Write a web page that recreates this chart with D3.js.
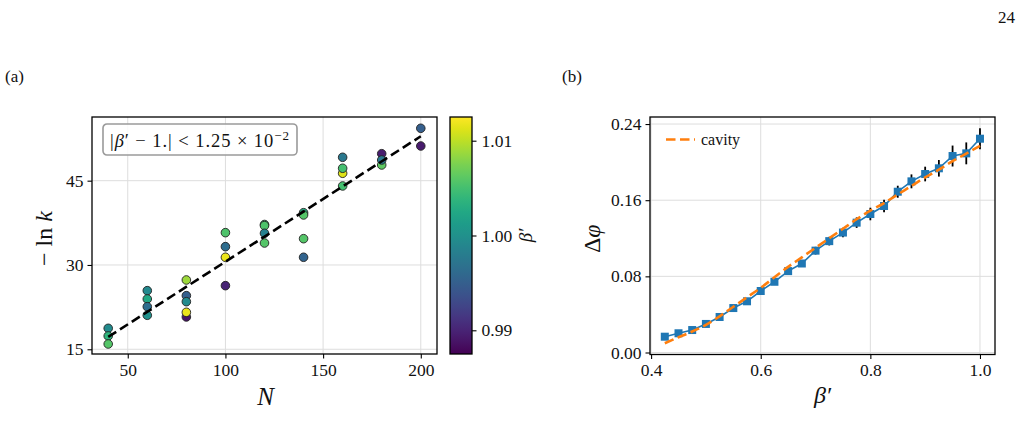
<!DOCTYPE html>
<html>
<head>
<meta charset="utf-8">
<script src="https://cdn.jsdelivr.net/npm/d3@7"></script>
<style>
body { margin: 0; background: #fff; }
svg text { font-family: "Liberation Serif", "DejaVu Serif", serif; fill: #111; }
</style>
</head>
<body>
<svg id="fig" width="1023" height="439"></svg>
<script>
// panel (a): system size N, -ln k, and beta' of each run
var sizeN = [40, 40, 40, 60, 60, 60, 60, 80, 80, 80, 80, 80, 100, 100, 100, 100,
    120, 120, 120, 120, 140, 140, 140, 140, 160, 160, 160, 160, 180, 180, 180, 200, 200];
var minusLnK = [18.73, 17.37, 15.94, 25.43, 23.95, 22.58, 21.05, 27.33, 24.54, 23.47, 20.75, 21.58,
    35.75, 33.26, 31.37, 26.32, 37.2, 37.0, 35.64, 33.91, 39.3, 38.9, 34.68, 31.37,
    49.16, 46.32, 47.21, 44.06, 49.8, 47.79, 48.68, 54.32, 51.17];
var betaRun = [0.9995, 1.0038, 1.0058, 0.9993, 1.0025, 0.9963, 1.0000, 1.0088, 0.9950, 0.9995, 0.9888, 1.0118,
    1.0055, 0.9963, 1.0118, 0.9900, 1.0045, 1.0055, 0.9983, 1.0058, 1.0030, 1.0058, 1.0058, 0.9955,
    0.9975, 1.0113, 1.0050, 1.0050, 0.9895, 1.0063, 0.9975, 0.9950, 0.9893];
var fitN = [40, 200];
var fitLnK = [17.2, 52.9];
var xTicksA = [50, 100, 150, 200];
var yTicksA = [15, 30, 45];
var cbTicks = [0.99, 1.00, 1.01];
var betaRange = [0.9875, 1.0125];

// panel (b): beta', Delta phi with error, and the cavity curve
var betaB = [0.425, 0.45, 0.475, 0.5, 0.525, 0.55, 0.575, 0.6, 0.625, 0.65, 0.675, 0.7,
    0.725, 0.75, 0.775, 0.8, 0.825, 0.85, 0.875, 0.9, 0.925, 0.95, 0.975, 1.0];
var deltaPhi = [0.0166, 0.0202, 0.0236, 0.030, 0.0373, 0.0467, 0.0538, 0.0646, 0.0743, 0.0855, 0.0935, 0.107,
    0.117, 0.126, 0.1364, 0.1455, 0.1539, 0.1689, 0.1798, 0.1875, 0.1935, 0.2064, 0.2092, 0.2246];
var deltaErr = [0.001, 0.001, 0.0015, 0.0015, 0.002, 0.002, 0.002, 0.0025, 0.003, 0.003, 0.0035, 0.004,
    0.0045, 0.005, 0.0055, 0.0066, 0.0066, 0.0063, 0.0073, 0.0077, 0.0087, 0.011, 0.0115, 0.011];
var cavity = [0.0097, 0.016, 0.022, 0.029, 0.038, 0.048, 0.058, 0.068, 0.079, 0.090, 0.100, 0.110,
    0.120, 0.130, 0.140, 0.149, 0.157, 0.166, 0.175, 0.184, 0.192, 0.201, 0.209, 0.217];
var xTicksB = [0.4, 0.6, 0.8, 1.0];
var yTicksB = [0.00, 0.08, 0.16, 0.24];

var svg = d3.select("#fig");
var gridColor = "#dddddd";

function frame(g, w, h) {
    g.append("rect").attr("width", w).attr("height", h)
        .attr("fill", "none").attr("stroke", "#000").attr("stroke-width", 1.3);
}

function styleAxis(g) {
    g.select(".domain").remove();
    g.selectAll(".tick line").attr("stroke", "#000").attr("stroke-width", 1.1);
    g.selectAll(".tick text").style("font-size", "17.5px").attr("fill", "#222");
}

// ---------- panel (a) ----------
var A = {left: 92, top: 117, width: 345, height: 237};
var ga = svg.append("g").attr("transform", "translate(" + A.left + "," + A.top + ")");

var xA = d3.scaleLinear().domain([31.7, 208.3]).range([0, A.width]);
var yA = d3.scaleLinear().domain([14.16, 56.33]).range([A.height, 0]);
var colour = d3.scaleSequential(d3.interpolateViridis).domain(betaRange);

ga.append("g").selectAll("line").data(xTicksA).enter().append("line")
    .attr("x1", d => xA(d)).attr("x2", d => xA(d)).attr("y1", 0).attr("y2", A.height)
    .attr("stroke", gridColor).attr("stroke-width", 1);
ga.append("g").selectAll("line").data(yTicksA).enter().append("line")
    .attr("y1", d => yA(d)).attr("y2", d => yA(d)).attr("x1", 0).attr("x2", A.width)
    .attr("stroke", gridColor).attr("stroke-width", 1);

var runs = sizeN.map((n, i) => ({n: n, v: minusLnK[i], b: betaRun[i]}));
ga.append("g").selectAll("circle").data(runs).enter().append("circle")
    .attr("cx", d => xA(d.n))
    .attr("cy", d => yA(d.v))
    .attr("r", 4.3)
    .attr("fill", d => colour(d.b))
    .attr("stroke", "#222").attr("stroke-width", 0.9);

ga.append("path")
    .datum(fitN.map((n, i) => [n, fitLnK[i]]))
    .attr("d", d3.line().x(d => xA(d[0])).y(d => yA(d[1])))
    .attr("fill", "none").attr("stroke", "#000").attr("stroke-width", 2.6)
    .attr("stroke-dasharray", "9.5,4.5");

ga.append("g").attr("transform", "translate(0," + A.height + ")")
    .call(d3.axisBottom(xA).tickValues(xTicksA).tickSize(4.5).tickPadding(5).tickFormat(d3.format("d")))
    .call(styleAxis);
ga.append("g")
    .call(d3.axisLeft(yA).tickValues(yTicksA).tickSize(4.5).tickPadding(4).tickFormat(d3.format("d")))
    .call(styleAxis);
frame(ga, A.width, A.height);

// annotation box
var box = ga.append("g").attr("transform", "translate(11,7)");
box.append("rect").attr("width", 194).attr("height", 31).attr("rx", 4)
    .attr("fill", "#fff").attr("fill-opacity", 0.85)
    .attr("stroke", "#9a9a9a").attr("stroke-width", 1.6);
var bt = box.append("text").attr("x", 7).attr("y", 22.5).style("font-size", "18.5px")
    .attr("textLength", 179).attr("lengthAdjust", "spacing");
bt.append("tspan").text("|");
bt.append("tspan").style("font-style", "italic").text("β");
bt.append("tspan").text("′ − 1.| < 1.25 × 10");
bt.append("tspan").attr("dy", -7).style("font-size", "13px").text("−2");

ga.append("text").attr("x", A.width / 2 + 1).attr("y", A.height + 51)
    .attr("text-anchor", "middle").style("font-size", "25px").style("font-style", "italic").text("N");
ga.append("text")
    .attr("transform", "translate(-40," + (A.height / 2 + 3) + ") rotate(-90)")
    .attr("text-anchor", "middle").style("font-size", "24px")
    .html("− ln <tspan font-style='italic'>k</tspan>");

// colorbar
var CB = {left: 450, top: 117, width: 22, height: 237};
var gc = svg.append("g").attr("transform", "translate(" + CB.left + "," + CB.top + ")");
var grad = svg.append("defs").append("linearGradient").attr("id", "viridis")
    .attr("x1", 0).attr("y1", 1).attr("x2", 0).attr("y2", 0);
d3.range(0, 1.0001, 0.05).forEach(t => {
    grad.append("stop").attr("offset", t).attr("stop-color", d3.interpolateViridis(t));
});
gc.append("rect").attr("width", CB.width).attr("height", CB.height).attr("fill", "url(#viridis)");
var yCb = d3.scaleLinear().domain(betaRange).range([CB.height, 0]);
gc.append("g").attr("transform", "translate(" + CB.width + ",0)")
    .call(d3.axisRight(yCb).tickValues(cbTicks).tickSize(4.5).tickPadding(5).tickFormat(d3.format(".2f")))
    .call(styleAxis);
frame(gc, CB.width, CB.height);
gc.append("text")
    .attr("transform", "translate(82," + (CB.height / 2) + ") rotate(-90)")
    .attr("text-anchor", "middle").style("font-size", "19px").style("font-style", "italic").text("β′");

// ---------- panel (b) ----------
var B = {left: 650, top: 117, width: 345, height: 237.5};
var gb = svg.append("g").attr("transform", "translate(" + B.left + "," + B.top + ")");
var xB = d3.scaleLinear().domain([0.398, 1.0274]).range([0, B.width]);
var yB = d3.scaleLinear().domain([-0.0021, 0.2474]).range([B.height, 0]);

gb.append("g").selectAll("line").data(xTicksB).enter().append("line")
    .attr("x1", d => xB(d)).attr("x2", d => xB(d)).attr("y1", 0).attr("y2", B.height)
    .attr("stroke", gridColor).attr("stroke-width", 1);
gb.append("g").selectAll("line").data(yTicksB).enter().append("line")
    .attr("y1", d => yB(d)).attr("y2", d => yB(d)).attr("x1", 0).attr("x2", B.width)
    .attr("stroke", gridColor).attr("stroke-width", 1);

var pts = betaB.map((b, i) => ({b: b, v: deltaPhi[i], e: deltaErr[i], c: cavity[i]}));

gb.append("g").selectAll("line").data(pts).enter().append("line")
    .attr("x1", d => xB(d.b)).attr("x2", d => xB(d.b))
    .attr("y1", d => yB(d.v - d.e)).attr("y2", d => yB(d.v + d.e))
    .attr("stroke", "#000").attr("stroke-width", 1.8);

gb.append("path").datum(pts)
    .attr("d", d3.line().x(d => xB(d.b)).y(d => yB(d.v)))
    .attr("fill", "none").attr("stroke", "#1f77b4").attr("stroke-width", 1.6);

gb.append("g").selectAll("rect").data(pts).enter().append("rect")
    .attr("x", d => xB(d.b) - 4).attr("y", d => yB(d.v) - 4)
    .attr("width", 8).attr("height", 8)
    .attr("fill", "#1f77b4");

gb.append("path").datum(pts)
    .attr("d", d3.line().curve(d3.curveMonotoneX).x(d => xB(d.b)).y(d => yB(d.c)))
    .attr("fill", "none").attr("stroke", "#ff7f0e").attr("stroke-width", 2.6)
    .attr("stroke-dasharray", "9.5,4.5");

gb.append("g").attr("transform", "translate(0," + B.height + ")")
    .call(d3.axisBottom(xB).tickValues(xTicksB).tickSize(4.5).tickPadding(5).tickFormat(d3.format(".1f")))
    .call(styleAxis);
gb.append("g")
    .call(d3.axisLeft(yB).tickValues(yTicksB).tickSize(4.5).tickPadding(4).tickFormat(d3.format(".2f")))
    .call(styleAxis);
frame(gb, B.width, B.height);

// legend
var lg = gb.append("g").attr("transform", "translate(16,22.5)");
lg.append("line").attr("x1", 0).attr("x2", 29).attr("y1", 0).attr("y2", 0)
    .attr("stroke", "#ff7f0e").attr("stroke-width", 2.6).attr("stroke-dasharray", "9.5,4.5");
lg.append("text").attr("x", 35).attr("y", 5).style("font-size", "16px").text("cavity");

gb.append("text").attr("x", B.width / 2).attr("y", B.height + 48)
    .attr("text-anchor", "middle").style("font-size", "24px").style("font-style", "italic").text("β′");
gb.append("text")
    .attr("transform", "translate(-50," + (B.height / 2 + 3) + ") rotate(-90)")
    .attr("text-anchor", "middle").style("font-size", "24px")
    .html("Δ<tspan font-style='italic'>φ</tspan>");

// panel tags and page number
svg.append("text").attr("x", 5).attr("y", 82).style("font-size", "17px").text("(a)");
svg.append("text").attr("x", 562).attr("y", 82).style("font-size", "17px").text("(b)");
svg.append("text").attr("x", 1015).attr("y", 23).attr("text-anchor", "end").style("font-size", "17px").text("24");
</script>
</body>
</html>
